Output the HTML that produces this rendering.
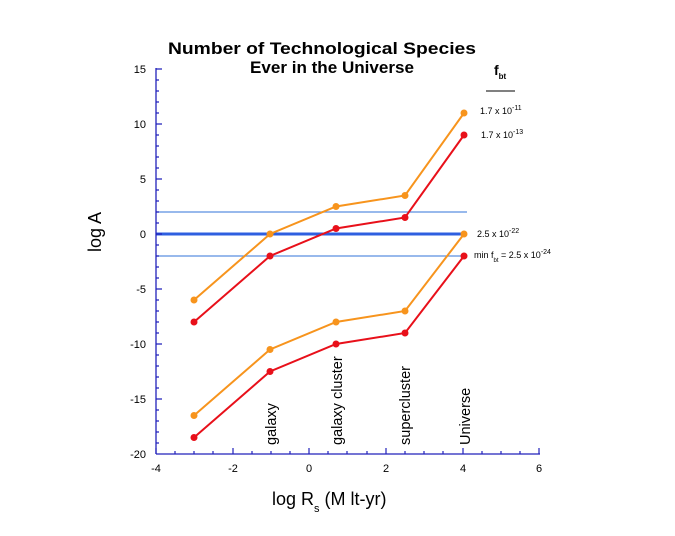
<!DOCTYPE html>
<html><head><style>body{margin:0;background:#fff}svg{display:block}</style></head><body>
<svg width="675" height="536" xmlns="http://www.w3.org/2000/svg" font-family="Liberation Sans, Arial, sans-serif">
<text x="322" y="54" font-size="17" font-weight="bold" text-anchor="middle" textLength="308" lengthAdjust="spacingAndGlyphs">Number of Technological Species</text>
<text x="332" y="73" font-size="17" font-weight="bold" text-anchor="middle" textLength="164" lengthAdjust="spacingAndGlyphs">Ever in the Universe</text>
<line x1="156" y1="212" x2="467" y2="212" stroke="#5b8fe0" stroke-width="1.2"/>
<line x1="156" y1="256" x2="467" y2="256" stroke="#5b8fe0" stroke-width="1.2"/>
<line x1="156" y1="234" x2="464" y2="234" stroke="#2e5fe0" stroke-width="3"/>
<line x1="156" y1="68" x2="156" y2="454" stroke="#2222bb" stroke-width="1.3"/>
<line x1="156" y1="454" x2="540" y2="454" stroke="#2222bb" stroke-width="1.3"/>
<g stroke="#2222bb" stroke-width="1.2">
<path d="M156 69h6M156 80h3M156 91h3M156 102h3M156 113h3M156 124h6M156 135h3M156 146h3M156 157h3M156 168h3M156 179h6M156 190h3M156 201h3M156 212h3M156 223h3M156 234h6M156 245h3M156 256h3M156 267h3M156 278h3M156 289h6M156 300h3M156 311h3M156 322h3M156 333h3M156 344h6M156 355h3M156 366h3M156 377h3M156 388h3M156 399h6M156 410h3M156 421h3M156 432h3M156 443h3"/>
<path d="M156 454v-6M175 454v-3M194 454v-3M213 454v-3M233 454v-6M252 454v-3M271 454v-3M290 454v-3M309 454v-6M328 454v-3M347 454v-3M367 454v-3M386 454v-6M405 454v-3M424 454v-3M443 454v-3M463 454v-6M482 454v-3M501 454v-3M520 454v-3M539 454v-6"/>
</g>
<g font-size="11" text-anchor="end">
<text x="146" y="73">15</text><text x="146" y="128">10</text><text x="146" y="183">5</text><text x="146" y="238">0</text><text x="146" y="293">-5</text><text x="146" y="348">-10</text><text x="146" y="403">-15</text><text x="146" y="458">-20</text>
</g>
<g font-size="11" text-anchor="middle">
<text x="156" y="472">-4</text><text x="233" y="472">-2</text><text x="309" y="472">0</text><text x="386" y="472">2</text><text x="463" y="472">4</text><text x="539" y="472">6</text>
</g>
<text x="101" y="232" font-size="18" text-anchor="middle" transform="rotate(-90 101 232)">log A</text>
<text x="272" y="505" font-size="18">log R<tspan font-size="11" dy="7">s</tspan><tspan dy="-7"> (M lt-yr)</tspan></text>
<g font-size="14.5">
<text transform="translate(276 445) rotate(-90)">galaxy</text>
<text transform="translate(342 445) rotate(-90)">galaxy cluster</text>
<text transform="translate(410 445) rotate(-90)">supercluster</text>
<text transform="translate(470 445) rotate(-90)">Universe</text>
</g>
<g fill="none" stroke-width="2">
<polyline stroke="#f7941d" points="194,300 270,234 336,206.5 405,195.5 464,113"/>
<polyline stroke="#e8101a" points="194,322 270,256 336,228.5 405,217.5 464,135"/>
<polyline stroke="#f7941d" points="194,415.5 270,349.5 336,322 405,311 464,234"/>
<polyline stroke="#e8101a" points="194,437.5 270,371.5 336,344 405,333 464,256"/>
</g>
<g fill="#f7941d"><circle cx="194" cy="300" r="3.5"/><circle cx="270" cy="234" r="3.5"/><circle cx="336" cy="206.5" r="3.5"/><circle cx="405" cy="195.5" r="3.5"/><circle cx="464" cy="113" r="3.5"/><circle cx="194" cy="415.5" r="3.5"/><circle cx="270" cy="349.5" r="3.5"/><circle cx="336" cy="322" r="3.5"/><circle cx="405" cy="311" r="3.5"/><circle cx="464" cy="234" r="3.5"/></g>
<g fill="#e8101a"><circle cx="194" cy="322" r="3.5"/><circle cx="270" cy="256" r="3.5"/><circle cx="336" cy="228.5" r="3.5"/><circle cx="405" cy="217.5" r="3.5"/><circle cx="464" cy="135" r="3.5"/><circle cx="194" cy="437.5" r="3.5"/><circle cx="270" cy="371.5" r="3.5"/><circle cx="336" cy="344" r="3.5"/><circle cx="405" cy="333" r="3.5"/><circle cx="464" cy="256" r="3.5"/></g>
<text x="494" y="75" font-size="14" font-weight="bold">f<tspan font-size="8" dy="4">bt</tspan></text>
<line x1="486" y1="91" x2="515" y2="91" stroke="#000" stroke-width="1"/>
<g font-size="9">
<text x="480" y="114">1.7 x 10<tspan font-size="7" dy="-4">-11</tspan></text>
<text x="481" y="138">1.7 x 10<tspan font-size="7" dy="-4">-13</tspan></text>
<text x="477" y="237">2.5 x 10<tspan font-size="7" dy="-4">-22</tspan></text>
<text x="474" y="258">min f<tspan font-size="6" dy="4">bt</tspan><tspan dy="-4"> = 2.5 x 10</tspan><tspan font-size="7" dy="-4">-24</tspan></text>
</g>
</svg>
</body></html>
